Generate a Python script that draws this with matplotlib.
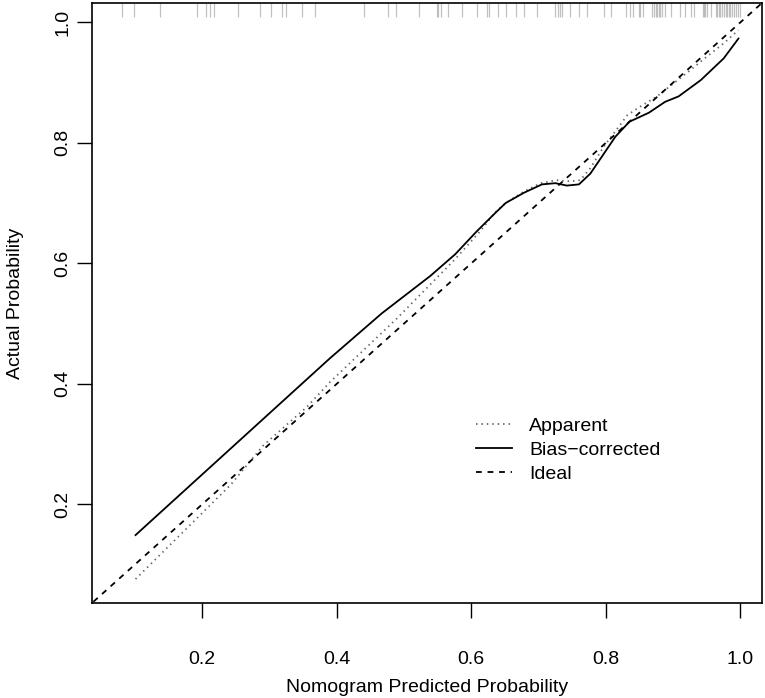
import matplotlib
matplotlib.use("Agg")
import matplotlib.pyplot as plt
import matplotlib.transforms as mtransforms

plt.rcParams['font.family'] = ['Liberation Sans', 'DejaVu Sans']

# Apparent calibration curve
apparent_x = [0.101, 0.167, 0.242, 0.291, 0.356, 0.390, 0.489, 0.576, 0.613, 0.635,
              0.651, 0.678, 0.703, 0.727, 0.747, 0.762, 0.777, 0.797, 0.812, 0.832,
              0.851, 0.876, 0.901, 0.926, 0.950, 0.975, 0.997]
apparent_y = [0.076, 0.149, 0.232, 0.298, 0.362, 0.403, 0.508, 0.607, 0.653, 0.684,
              0.700, 0.719, 0.733, 0.738, 0.736, 0.738, 0.758, 0.794, 0.816, 0.846,
              0.860, 0.877, 0.899, 0.921, 0.943, 0.965, 0.987]

# Bias-corrected calibration curve
bias_x = [0.101, 0.356, 0.390, 0.467, 0.539, 0.576, 0.608, 0.636, 0.651, 0.678,
          0.705, 0.725, 0.742, 0.760, 0.777, 0.814, 0.835, 0.864, 0.888, 0.908,
          0.941, 0.975, 0.997]
bias_y = [0.149, 0.408, 0.4425, 0.517, 0.579, 0.615, 0.653, 0.684, 0.700, 0.717,
          0.731, 0.733, 0.729, 0.731, 0.749, 0.810, 0.835, 0.850, 0.868, 0.877,
          0.904, 0.940, 0.973]

# Distribution of predicted probabilities (rug at top)
rug_x = [0.081, 0.099, 0.138, 0.192, 0.206, 0.211, 0.217, 0.253, 0.286, 0.303,
         0.319, 0.324, 0.349, 0.367, 0.440, 0.476, 0.488, 0.522, 0.549, 0.551,
         0.555, 0.566, 0.586, 0.608, 0.624, 0.626, 0.640, 0.651, 0.666, 0.679,
         0.698, 0.724, 0.729, 0.732, 0.735, 0.747, 0.760, 0.772, 0.797, 0.808,
         0.830, 0.836, 0.841, 0.849, 0.851, 0.855, 0.869, 0.871, 0.874, 0.876,
         0.879, 0.881, 0.884, 0.888, 0.897, 0.910, 0.917, 0.926, 0.931, 0.945,
         0.946, 0.948, 0.950, 0.956, 0.963, 0.965, 0.968, 0.970, 0.973, 0.975,
         0.978, 0.980, 0.983, 0.985, 0.988, 0.990, 0.994, 0.997, 0.999]

ideal = [0.0, 1.1]
lims = [0.0363, 1.032]
ticks = [0.2, 0.4, 0.6, 0.8, 1.0]
tick_labels = ["0.2", "0.4", "0.6", "0.8", "1.0"]

fig = plt.figure(figsize=(7.65, 6.98), dpi=100)
ax = fig.add_axes([92/765, 1-603/698, 670/765, 600/698])

ax.plot(apparent_x, apparent_y, color='0.4', lw=1.3, dashes=(0.8, 2.2), label='Apparent')
ax.plot(bias_x, bias_y, color='black', lw=1.3, label='Bias\u2212corrected')
ax.plot(ideal, ideal, color='black', lw=1.3, dashes=(3.2, 3.2), label='Ideal')

trans = mtransforms.blended_transform_factory(ax.transData, ax.transAxes)
ax.vlines(rug_x, 1 - 14/600, 1.0, transform=trans, color='0.6', lw=0.9, alpha=0.6)

ax.set_xlim(lims)
ax.set_ylim(lims)
ax.set_xticks(ticks)
ax.set_xticklabels(tick_labels)
ax.set_yticks(ticks)
ax.set_yticklabels(tick_labels, rotation=90, va='center')
ax.tick_params(axis='both', direction='out', length=10.5, width=1.0, labelsize=14)
ax.tick_params(axis='x', pad=24)
ax.tick_params(axis='y', pad=4.5)
for s in ax.spines.values():
    s.set_linewidth(1.2)

ax.set_xlabel('Nomogram Predicted Probability', fontsize=14, labelpad=8)
ax.set_ylabel('Actual Probability', fontsize=14, labelpad=22)

ax.legend(loc='upper left', bbox_to_anchor=(0.573, 0.31), frameon=False, fontsize=14,
          handlelength=1.86, handletextpad=0.88, labelspacing=0.33, borderpad=0,
          borderaxespad=0)

fig.savefig('out.png', dpi=100)
